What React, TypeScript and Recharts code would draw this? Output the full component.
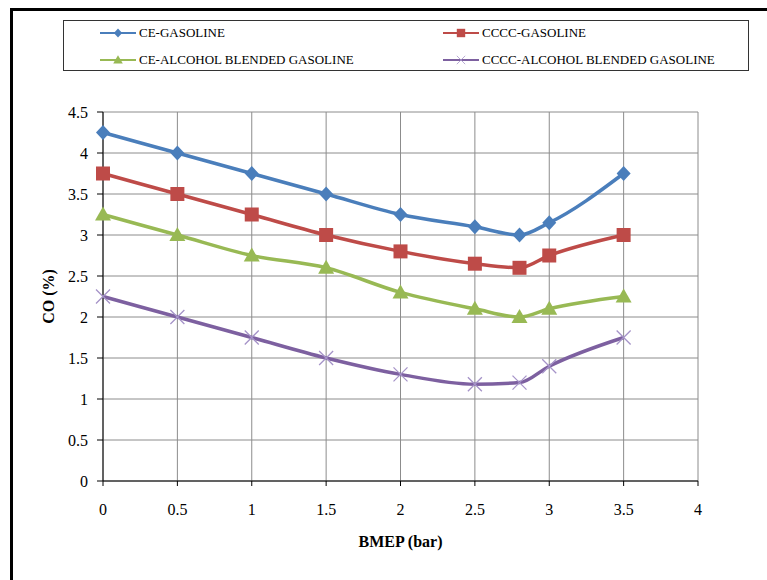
import { CartesianGrid, Legend, Line, LineChart, XAxis, YAxis } from "recharts";

const bmep = [0, 0.5, 1, 1.5, 2, 2.5, 2.8, 3, 3.5];
const ceGasoline = [4.25, 4.0, 3.75, 3.5, 3.25, 3.1, 3.0, 3.15, 3.75];
const ccccGasoline = [3.75, 3.5, 3.25, 3.0, 2.8, 2.65, 2.6, 2.75, 3.0];
const ceAlcohol = [3.25, 3.0, 2.75, 2.6, 2.3, 2.1, 2.0, 2.1, 2.25];
const ccccAlcohol = [2.25, 2.0, 1.75, 1.5, 1.3, 1.18, 1.2, 1.4, 1.75];

const xTicks = [0, 0.5, 1, 1.5, 2, 2.5, 3, 3.5, 4];
const yTicks = [0, 0.5, 1, 1.5, 2, 2.5, 3, 3.5, 4, 4.5];

const data = bmep.map((x, i) => ({
  x,
  ce: ceGasoline[i],
  cccc: ccccGasoline[i],
  ceAlc: ceAlcohol[i],
  ccccAlc: ccccAlcohol[i]
}));

const series = [
  { key: "ce", name: "CE-GASOLINE", color: "#4a7ebb", marker: "diamond" },
  { key: "cccc", name: "CCCC-GASOLINE", color: "#be4b48", marker: "square" },
  { key: "ceAlc", name: "CE-ALCOHOL BLENDED GASOLINE", color: "#98b954", marker: "triangle" },
  { key: "ccccAlc", name: "CCCC-ALCOHOL BLENDED GASOLINE", color: "#7d60a0", marker: "cross" }
];

const FONT = "'Liberation Serif', 'Times New Roman', serif";
const LEGEND_H = 51;

function Marker({ cx, cy, kind, color }: { cx: number; cy: number; kind: string; color: string }) {
  if (cx == null || cy == null) return null;
  if (kind === "diamond") {
    return <path d={`M${cx},${cy - 7.5}L${cx + 7},${cy}L${cx},${cy + 7.5}L${cx - 7},${cy}Z`} fill={color} />;
  }
  if (kind === "square") {
    return <rect x={cx - 7} y={cy - 7} width={14} height={14} fill={color} />;
  }
  if (kind === "triangle") {
    return <path d={`M${cx},${cy - 8}L${cx + 8},${cy + 6}L${cx - 8},${cy + 6}Z`} fill={color} />;
  }
  return (
    <path
      d={`M${cx - 7},${cy - 7}L${cx + 7},${cy + 7}M${cx + 7},${cy - 7}L${cx - 7},${cy + 7}`}
      stroke="#a593c8"
      strokeWidth={1.3}
      fill="none"
    />
  );
}

function LegendBox() {
  return (
    <div
      style={{
        width: 686,
        height: LEGEND_H,
        border: "1px solid #333",
        boxSizing: "border-box",
        background: "#fff",
        fontFamily: FONT,
        fontSize: 13,
        color: "#000",
        position: "relative"
      }}
    >
      {series.map((s, i) => {
        const col = i % 2;
        const row = Math.floor(i / 2);
        const left = col === 0 ? 36 : 379;
        const top = row === 0 ? 12 : 39;
        return (
          <div key={s.key} style={{ position: "absolute", left, top: top - 8, display: "flex", alignItems: "center", height: 16 }}>
            <svg width={38} height={16}>
              <line x1={0} y1={8} x2={36} y2={8} stroke={s.color} strokeWidth={2} />
              <g transform="translate(18,8) scale(0.6) translate(-18,-8)">
                <Marker cx={18} cy={8} kind={s.marker} color={s.color} />
              </g>
            </svg>
            <span style={{ marginLeft: 1, whiteSpace: "nowrap" }}>{s.name}</span>
          </div>
        );
      })}
    </div>
  );
}

export default function App() {
  return (
    <div style={{ position: "absolute", left: 0, top: 0, width: 767, height: 580, background: "#fff", overflow: "hidden" }}>
      <div
        style={{
          position: "absolute",
          left: 10,
          top: 8,
          width: 767,
          height: 580,
          borderLeft: "3px solid #000",
          borderTop: "3px solid #000"
        }}
      />
      <LineChart
        width={767}
        height={580}
        data={data}
        margin={{ top: 112 - LEGEND_H, right: 69, bottom: 69, left: 63 }}
        style={{ position: "absolute", left: 0, top: 0 }}
      >
        <CartesianGrid stroke="#8c8c8c" strokeWidth={1} />
        <XAxis
          dataKey="x"
          type="number"
          domain={[0, 4]}
          ticks={xTicks}
          height={30}
          tickSize={5}
          tickMargin={18}
          stroke="#000"
          tick={{ fill: "#000", fontFamily: FONT, fontSize: 16 }}
          label={{ value: "BMEP (bar)", position: "insideBottom", offset: -36, fill: "#000", fontFamily: FONT, fontSize: 16, fontWeight: "bold" }}
        />
        <YAxis
          type="number"
          domain={[0, 4.5]}
          ticks={yTicks}
          width={40}
          tickSize={6}
          tickMargin={9}
          stroke="#000"
          tick={{ fill: "#000", fontFamily: FONT, fontSize: 16 }}
          label={{ value: "CO (%)", angle: -90, position: "insideLeft", offset: -15, fill: "#000", fontFamily: FONT, fontSize: 16, fontWeight: "bold", style: { textAnchor: "middle" } }}
        />
        <Legend
          verticalAlign="top"
          wrapperStyle={{ position: "absolute", left: 63, top: 20, width: 686 }}
          content={() => <LegendBox />}
        />
        {series.map((s) => (
          <Line
            key={s.key}
            type="monotone"
            dataKey={s.key}
            name={s.name}
            stroke={s.color}
            strokeWidth={3.5}
            isAnimationActive={false}
            dot={(p: any) => <Marker key={`${s.key}-${p.index}`} cx={p.cx} cy={p.cy} kind={s.marker} color={s.color} />}
            activeDot={false}
          />
        ))}
      </LineChart>
    </div>
  );
}
